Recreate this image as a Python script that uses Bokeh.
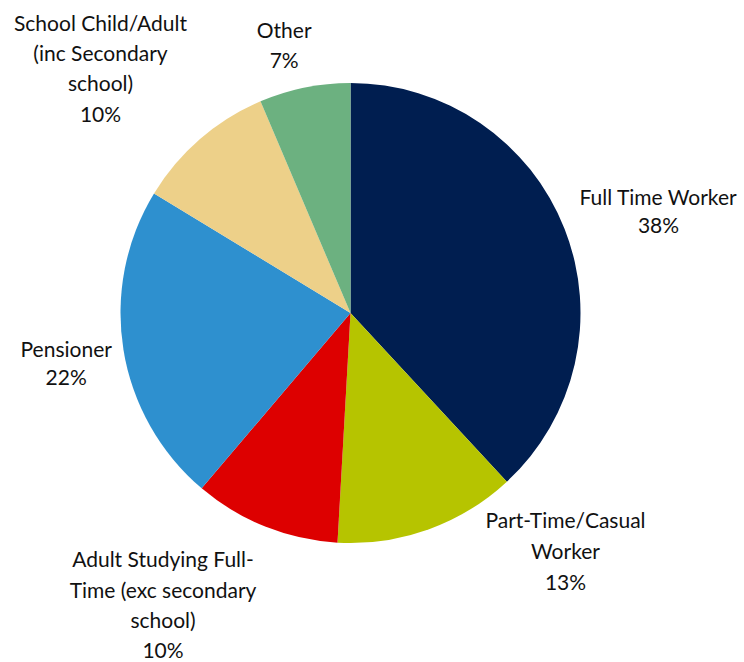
import math
from bokeh.plotting import figure
from bokeh.models import ColumnDataSource, Range1d
from bokeh.core.properties import value
from bokeh.embed import file_html
from bokeh.resources import INLINE

# ---- data ----
categories = ["Full Time Worker", "Part-Time/Casual Worker",
              "Adult Studying Full-Time (exc secondary school)", "Pensioner",
              "School Child/Adult (inc Secondary school)", "Other"]
shares = [38.1, 12.8, 10.3, 22.5, 9.9, 6.4]
pct_labels = ["38%", "13%", "10%", "22%", "10%", "7%"]
label_lines = [
    ["Full Time Worker"],
    ["Part-Time/Casual", "Worker"],
    ["Adult Studying Full-", "Time (exc secondary", "school)"],
    ["Pensioner"],
    ["School Child/Adult", "(inc Secondary", "school)"],
    ["Other"],
]
colors = ["#001E50", "#B6C400", "#DD0000", "#2E90CF", "#EDD089", "#6CB180"]

# ---- layout (pixels from top-left) ----
W, H = 744, 662
CX, CY, R = 350, 312.5, 230
BASELINE_FIX = 9  # renderer places alphabetic baseline slightly lower
label_pos = [  # center x, first baseline, last baseline
    (658, 205, 233.3),
    (565, 528.3, 590),
    (162.5, 567.3, 658.3),
    (65.7, 356.7, 385),
    (100, 31, 121.7),
    (283.7, 38.3, 68.3),
]

total = sum(shares)
starts, ends = [], []
cum = 0.0
for s in shares:
    starts.append(math.pi / 2 - 2 * math.pi * cum / total)
    cum += s
    ends.append(math.pi / 2 - 2 * math.pi * cum / total)

src = ColumnDataSource(dict(cat=categories, start=starts, end=ends, color=colors))

p = figure(width=W, height=H, output_backend="svg", toolbar_location=None,
           x_range=Range1d(0, W), y_range=Range1d(0, H), min_border=0)
p.axis.visible = False
p.grid.visible = False
p.outline_line_color = None
p.background_fill_color = "white"

p.wedge(x=CX, y=H - CY, radius=R, start_angle="start", end_angle="end",
        direction="clock", fill_color="color", line_color=None, source=src)

tx, ty, tt = [], [], []
for (cx, b0, b1), lines, pct in zip(label_pos, label_lines, pct_labels):
    all_lines = lines + [pct]
    n = len(all_lines)
    step = (b1 - b0) / (n - 1) if n > 1 else 0
    for i, t in enumerate(all_lines):
        tx.append(cx)
        ty.append(H - (b0 + i * step - BASELINE_FIX))
        tt.append(t)

p.text(x=tx, y=ty, text=tt, text_align="center", text_baseline="alphabetic",
       text_font=value("Lato"), text_font_size="21px", text_color="#111111")

open("out.html", "w").write(file_html(p, INLINE))
